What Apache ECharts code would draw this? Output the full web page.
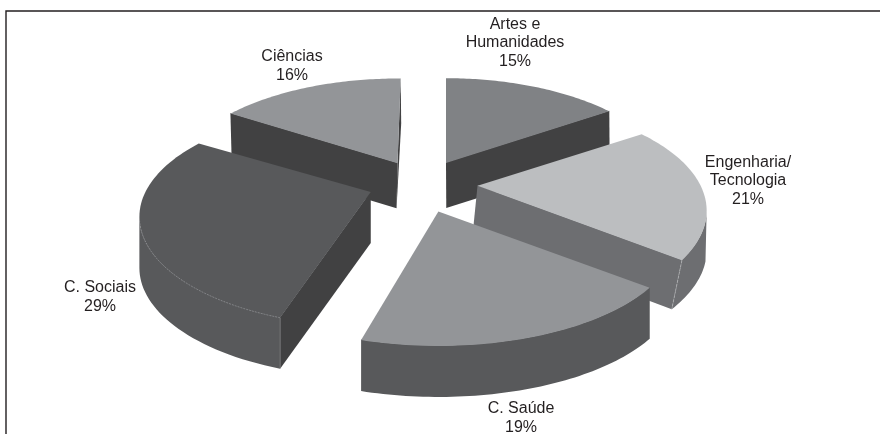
<!DOCTYPE html>
<html><head><meta charset="utf-8">
<style>html,body{margin:0;padding:0;background:#fff}#c{width:880px;height:434px}</style>
<script src="https://cdn.jsdelivr.net/npm/echarts@6/dist/echarts.min.js"></script>
</head><body><div id="c"></div>
<script>
// Data, clockwise from 12 o'clock
const categories = ['Artes e\nHumanidades', 'Engenharia/\nTecnologia', 'C. Saúde', 'C. Sociais', 'Ciências'];
const values = [15, 21, 19, 29, 16];

// Styles and layout
const topColors   = ['#808285', '#bcbec0', '#939598', '#58595b', '#939598'];
const sideColors  = ['#808285', '#6d6e71', '#58595b', '#58595b', '#414142'];
const wallColors  = ['#414142', '#6d6e71', '#58595b', '#414142', '#414142']; // radial walls
const depths      = [45, 49, 51, 51, 45];
const drawOrder   = [4, 0, 1, 3, 2]; // back to front
const tilts = [[0.3,0,0],[-5,0.0365,-0.17],[0,0,0],[0,0,0],[-1,-0.008,-0.018]];
const labelPos = [[515,43],[748,181],[521,418],[100,297],[292,66]];
// per-slice artwork quirks of the original drawing
const apexNudge  = [[0,0],[0,0],[0,0],[2,-2],[1,0]];
const angleNudge = [[0,2],[2,-1.6],[-0.6,-3],[0.4,-1],[0,1]]; // degrees at each end
const xStretch   = [1,1.005,1.05,1.015,1];
const CENTER = [422, 185], RX = 222, RY = 104, PERSP = 0.227, EXPLODE = 0.25;

const total = values.reduce((a, b) => a + b, 0);
function project(theta, r) {
  const s = Math.sin(theta) * r, c = Math.cos(theta) * r;
  const d = 1 + PERSP * c;
  return [RX * s / d, -RY * c / d];
}
function renderItem(params, api) {
  const i = params.dataIndex;
  const before = values.slice(0, i).reduce((a, b) => a + b, 0);
  const a0 = before / total * 2 * Math.PI;
  const a1 = (before + api.value(0)) / total * 2 * Math.PI;
  const off = project((a0 + a1) / 2, EXPLODE);
  const ax = CENTER[0] + off[0] + apexNudge[i][0], ay = CENTER[1] + off[1] + apexNudge[i][1];
  const b0 = a0 + angleNudge[i][0] * Math.PI / 180, b1 = a1 + angleNudge[i][1] * Math.PI / 180;
  const N = 60, arc = [];
  for (let k = 0; k <= N; k++) {
    const p = project(b0 + (b1 - b0) * k / N, 1);
    arc.push([p[0] * xStretch[i], p[1]]);
  }
  const tilt = tilts[i], t = depths[i];
  const T = p => [ax + p[0], ay + p[1]];
  const B = p => [ax + p[0] + tilt[0] + tilt[1] * p[0] + tilt[2] * p[1], ay + p[1] + t];
  const U = p => [ax + p[0], ay + p[1] - 0.6]; // tucks wall tops under the top face
  const O = [0, 0], first = arc[0], last = arc[N], mid = arc[N >> 1];
  const z = drawOrder.indexOf(i) * 10;
  const poly = (points, fill, z2) => ({ type: 'polygon', shape: { points }, z2, style: { fill } });
  const children = [];
  // outer wall: only the arc segments that face the viewer
  const front = [];
  for (let k = 0; k <= N; k++) {
    const prev = arc[Math.max(k - 1, 0)], next = arc[Math.min(k + 1, N)];
    if (next[0] - prev[0] < 0) front.push(arc[k]);
  }
  if (front.length > 1) {
    children.push(poly(front.map(U).concat(front.slice().reverse().map(B)), sideColors[i], z));
  }
  // radial walls: only if moving down from the edge leaves the sector
  [first, last].forEach((v, n) => {
    const cross = v[0] * mid[1] - v[1] * mid[0];
    if (v[0] * cross < 0) {
      children.push(poly([U(O), B(O), B(v), U(v)], wallColors[i], z + 1 + n));
    }
  });
  children.push(poly([T(O)].concat(arc.map(T)), topColors[i], z + 3));
  // hairline highlights where faces of the same shade meet
  if (categories[i] === 'C. Sociais') {
    children.push({
      type: 'polyline', shape: { points: arc.map(T).filter((p, k) => k < 34) }, z2: z + 4,
      style: { fill: null, stroke: '#a7a9ac', lineWidth: 0.5, lineDash: [2, 1] }
    });
    children.push({
      type: 'polyline', shape: { points: [T(first), B(first)] }, z2: z + 4,
      style: { fill: null, stroke: '#8a8c8e', lineWidth: 0.5 }
    });
  }
  if (categories[i].startsWith('Engenharia')) {
    children.push({
      type: 'polyline', shape: { points: [T(last), B(last)] }, z2: z + 4,
      style: { fill: null, stroke: '#bcbec0', lineWidth: 0.6, lineDash: [3, 1] }
    });
  }
  children.push({
    type: 'text', z2: 100,
    style: {
      text: categories[i] + '\n' + api.value(0) + '%',
      x: labelPos[i][0], y: labelPos[i][1],
      align: 'center', verticalAlign: 'middle',
      font: '16px "Liberation Sans", Arial, sans-serif',
      lineHeight: 18.3, fill: '#231f20'
    }
  });
  return { type: 'group', children };
}
const chart = echarts.init(document.getElementById('c'), null, { renderer: 'canvas' });
chart.setOption({
  animation: false,
  backgroundColor: '#fff',
  graphic: [
    { type: 'polyline', shape: { points: [[6, 434], [6, 11], [880, 11]] }, style: { fill: null, stroke: '#231f20', lineWidth: 1.4 } }
  ],
  series: [{
    type: 'custom', coordinateSystem: 'none', silent: true,
    renderItem, data: values.map(v => [v])
  }]
});
</script></body></html>
